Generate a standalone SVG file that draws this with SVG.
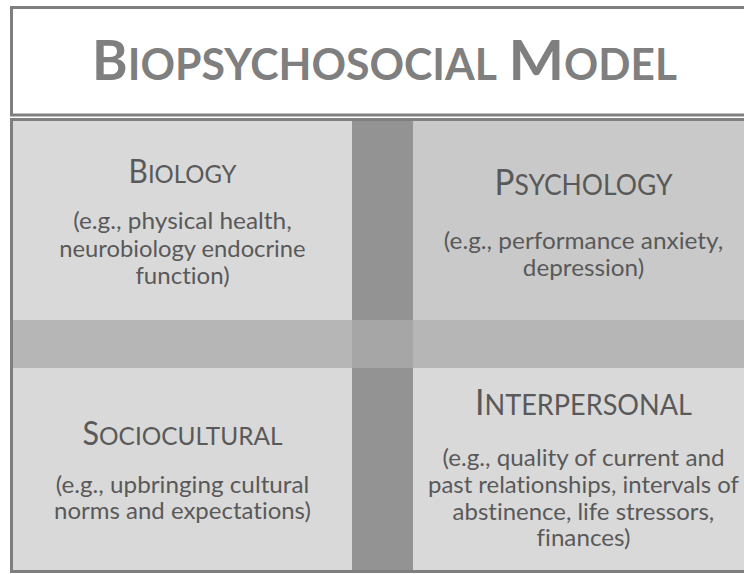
<svg xmlns="http://www.w3.org/2000/svg" width="744" height="574" viewBox="0 0 744 574">
<style>
text{font-variant-ligatures:none}
.frame{fill:#ffffff;stroke:#7f7f7f;stroke-width:3}
.title{font-family:Lato,"Open Sans","Liberation Sans",sans-serif;font-weight:bold;fill:#7f7f7f}
.head{font-family:Lato,"Open Sans","Liberation Sans",sans-serif;fill:#595959}
.body{font-family:Lato,"Open Sans","Liberation Sans",sans-serif;font-size:23.5px;fill:#595959}
</style>
<rect width="744" height="574" fill="#ffffff"/>
<g id="title">
<rect class="frame" x="11.5" y="7.5" width="745" height="107.5"/>
<text class="title" y="80"><tspan x="92" font-size="56" textLength="35.7" lengthAdjust="spacingAndGlyphs">B</tspan><tspan x="127.7" font-size="44.8" textLength="369.3" lengthAdjust="spacingAndGlyphs">IOPSYCHOSOCIAL</tspan><tspan font-size="20"> </tspan><tspan x="508.5" font-size="56" textLength="55.6" lengthAdjust="spacingAndGlyphs">M</tspan><tspan x="564.1" font-size="44.8" textLength="112.8" lengthAdjust="spacingAndGlyphs">ODEL</tspan></text>
</g>
<g id="grid">
<rect class="frame" x="11.5" y="119.5" width="745" height="452"/>
<rect x="13" y="121" width="339" height="199" fill="#d9d9d9"/>
<rect x="413" y="121" width="331" height="199" fill="#c9c9c9"/>
<rect x="13" y="368" width="339" height="202" fill="#d9d9d9"/>
<rect x="413" y="368" width="331" height="202" fill="#d9d9d9"/>
</g>
<g id="dividers">
<rect x="352" y="121" width="61" height="449" fill="#939393"/>
<rect x="13" y="320" width="731" height="48" fill="#b6b6b6"/>
<rect x="352" y="320" width="61" height="48" fill="#a6a6a6"/>
</g>
<g id="biology">
<text class="head" x="128.5" y="183" textLength="108" lengthAdjust="spacingAndGlyphs"><tspan font-size="32.4">B</tspan><tspan font-size="25.9">IOLOGY</tspan></text>
<text class="body" x="73.2" y="229" textLength="218.6" lengthAdjust="spacingAndGlyphs">(e.g., physical health,</text>
<text class="body" x="59.3" y="256.5" textLength="246.3" lengthAdjust="spacingAndGlyphs">neurobiology endocrine</text>
<text class="body" x="135.4" y="284" textLength="94.3" lengthAdjust="spacingAndGlyphs">function)</text>
</g>
<g id="psychology">
<text class="head" x="494.5" y="195" textLength="178" lengthAdjust="spacingAndGlyphs"><tspan font-size="36">P</tspan><tspan font-size="28.8">SYCHOLOGY</tspan></text>
<text class="body" x="443.8" y="249" textLength="279.4" lengthAdjust="spacingAndGlyphs">(e.g., performance anxiety,</text>
<text class="body" x="522.8" y="276" textLength="121.4" lengthAdjust="spacingAndGlyphs">depression)</text>
</g>
<g id="sociocultural">
<text class="head" x="82.5" y="445" textLength="200" lengthAdjust="spacingAndGlyphs"><tspan font-size="32.4">S</tspan><tspan font-size="25.9">OCIOCULTURAL</tspan></text>
<text class="body" x="55.7" y="493" textLength="253.6" lengthAdjust="spacingAndGlyphs">(e.g., upbringing cultural</text>
<text class="body" x="54.1" y="519" textLength="256.8" lengthAdjust="spacingAndGlyphs">norms and expectations)</text>
</g>
<g id="interpersonal">
<text class="head" x="475" y="415" textLength="217" lengthAdjust="spacingAndGlyphs"><tspan font-size="36">I</tspan><tspan font-size="28.8">NTERPERSONAL</tspan></text>
<text class="body" x="442.4" y="466" textLength="282.2" lengthAdjust="spacingAndGlyphs">(e.g., quality of current and</text>
<text class="body" x="428" y="493" textLength="311" lengthAdjust="spacingAndGlyphs">past relationships, intervals of</text>
<text class="body" x="452.6" y="519.5" textLength="261.7" lengthAdjust="spacingAndGlyphs">abstinence, life stressors,</text>
<text class="body" x="536.6" y="546" textLength="93.8" lengthAdjust="spacingAndGlyphs">finances)</text>
</g>
<g id="connectors"/>
</svg>
